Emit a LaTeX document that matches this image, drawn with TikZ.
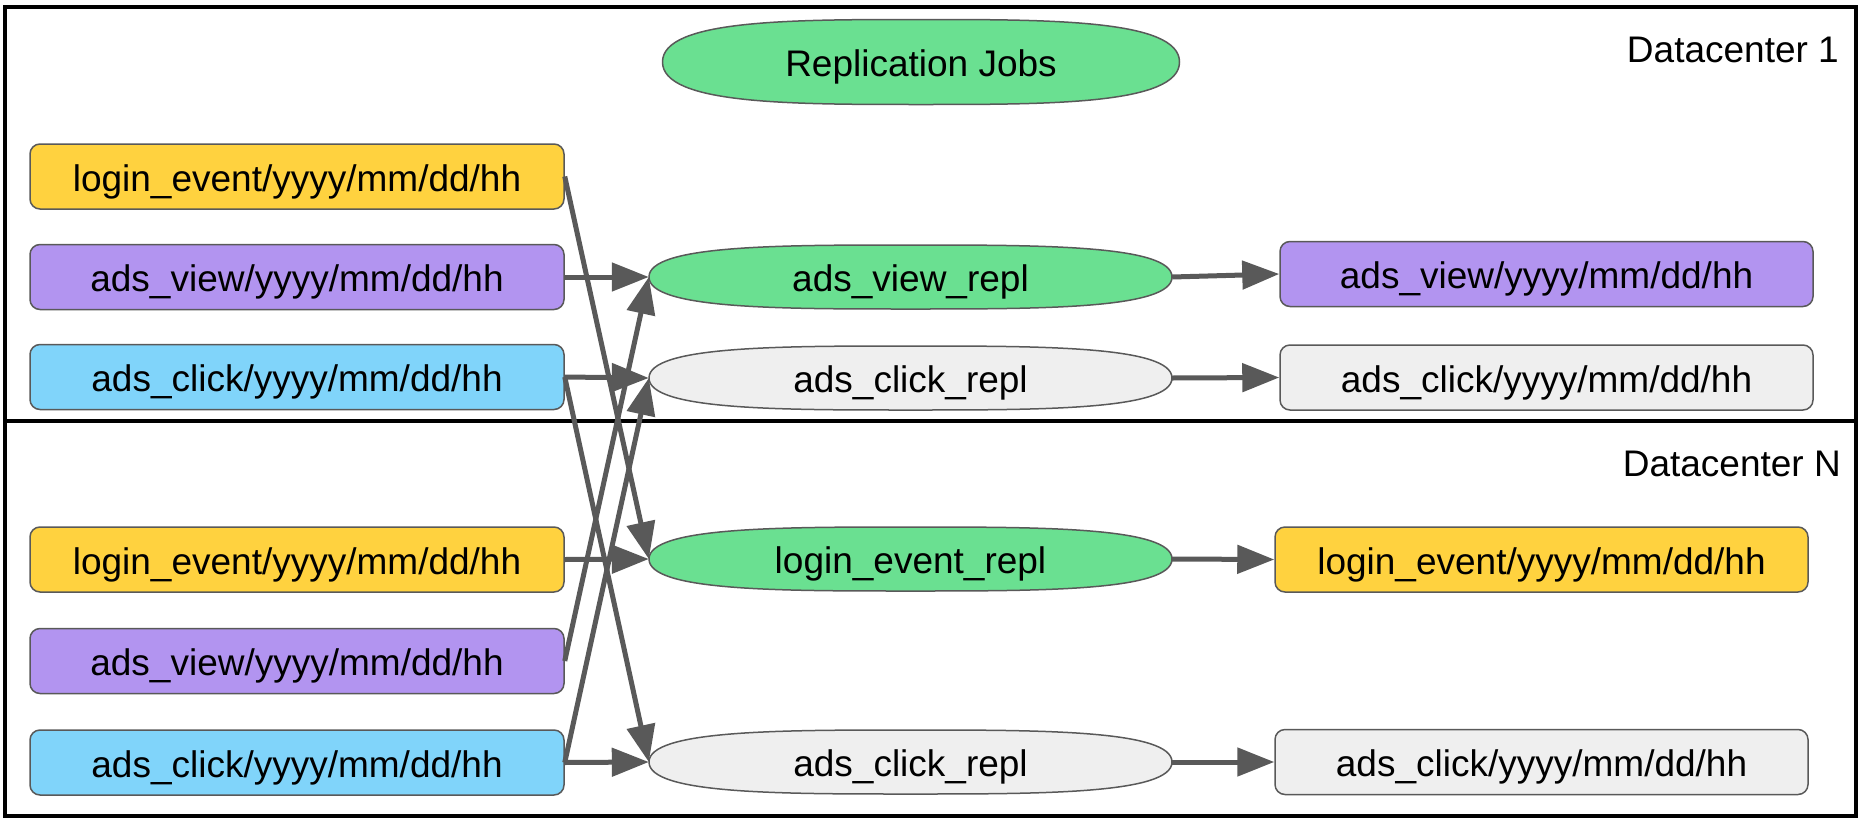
\documentclass[tikz,border=0pt]{standalone}
\usepackage{fontspec}
\setmainfont{Liberation Sans}
\usetikzlibrary{arrows.meta}
\definecolor{cyellow}{RGB}{255,210,63}
\definecolor{cpurple}{RGB}{178,148,240}
\definecolor{cblue}{RGB}{128,212,250}
\definecolor{cgreen}{RGB}{106,224,145}
\definecolor{cgray}{RGB}{239,239,239}
\definecolor{cline}{RGB}{89,89,89}
% #1 cx, #2 cy, #3 half width, #4 half height, #5 fill
\newcommand{\pillshape}[5]{%
  \draw[pillborder, fill=#5] (#1-#3,#2)
    .. controls (#1-#3,#2-#4) and (#1-0.5*#3,#2-#4) .. (#1,#2-#4)
    .. controls (#1+0.5*#3,#2-#4) and (#1+#3,#2-#4) .. (#1+#3,#2)
    .. controls (#1+#3,#2+#4) and (#1+0.5*#3,#2+#4) .. (#1,#2+#4)
    .. controls (#1-0.5*#3,#2+#4) and (#1-#3,#2+#4) .. cycle;}
\begin{document}
\begin{tikzpicture}[x=1pt,y=-1pt,
  txt/.style={font=\fontsize{37}{44}\selectfont, text height=29pt, text depth=0pt, inner sep=0pt},
  box/.style={txt, draw=cline, line width=1.5pt, rounded corners=10pt, minimum width=534pt, minimum height=65pt},
  pilltext/.style={txt, minimum width=523pt, minimum height=64pt},
  pillborder/.style={draw=cline, line width=1.5pt},
  frame/.style={draw=black, line width=4pt},
  conn/.style={draw=cline, line width=5pt, -{Triangle[length=37pt,width=28pt]}}]
\useasboundingbox (0,0) rectangle (1860,819);
% frames
\draw[frame] (5,7) rectangle (1856,816);
\draw[frame] (5,421) -- (1856,421);
\node[txt, anchor=east] (dc1) at (1839,48) {Datacenter 1};
\node[txt, anchor=east] (dcn) at (1841,462) {Datacenter N};
% replication jobs
\pillshape{921}{62}{258.5}{42.5}{cgreen}
\node[txt, minimum width=517pt, minimum height=85pt] (rj) at (921,62) {Replication Jobs};
% left boxes DC1
\node[box, fill=cyellow] (ll1) at (297,176.5) {login\_event/yyyy/mm/dd/hh};
\node[box, fill=cpurple] (lv1) at (297,277) {ads\_view/yyyy/mm/dd/hh};
\node[box, fill=cblue]   (lc1) at (297,377) {ads\_click/yyyy/mm/dd/hh};
% left boxes DCN
\node[box, fill=cyellow] (ll2) at (297,559.5) {login\_event/yyyy/mm/dd/hh};
\node[box, fill=cpurple] (lv2) at (297,661) {ads\_view/yyyy/mm/dd/hh};
\node[box, fill=cblue]   (lc2) at (297,762.5) {ads\_click/yyyy/mm/dd/hh};
% replication pills
\pillshape{910.5}{277}{261.5}{32}{cgreen}
\node[pilltext] (avr) at (910.5,277) {ads\_view\_repl};
\pillshape{910.5}{378}{261.5}{32}{cgray}
\node[pilltext] (acr1) at (910.5,378) {ads\_click\_repl};
\pillshape{910.5}{559}{261.5}{32}{cgreen}
\node[pilltext] (ler) at (910.5,559) {login\_event\_repl};
\pillshape{910.5}{762}{261.5}{32}{cgray}
\node[pilltext] (acr2) at (910.5,762) {ads\_click\_repl};
% right boxes
\node[box, fill=cpurple, minimum width=533pt] (rv1) at (1546.5,274) {ads\_view/yyyy/mm/dd/hh};
\node[box, fill=cgray, minimum width=533pt] (rc1) at (1546.5,377.5) {ads\_click/yyyy/mm/dd/hh};
\node[box, fill=cyellow, minimum width=533pt] (rl2) at (1541.5,559.5) {login\_event/yyyy/mm/dd/hh};
\node[box, fill=cgray, minimum width=533pt] (rc2) at (1541.5,762) {ads\_click/yyyy/mm/dd/hh};
% connectors
\draw[conn] (lv1.east) -- (avr.west);
\draw[conn] (lc1.east) -- (acr1.west);
\draw[conn] (ll1.east) -- (ler.west);
\draw[conn] (lc1.east) -- (acr2.west);
\draw[conn] (lv2.east) -- (avr.west);
\draw[conn] (lc2.east) -- (acr1.west);
\draw[conn] (ll2.east) -- (ler.west);
\draw[conn] (lc2.east) -- (acr2.west);
\draw[conn] (avr.east) -- (rv1.west);
\draw[conn] (acr1.east) -- (rc1.west);
\draw[conn] (ler.east) -- (rl2.west);
\draw[conn] (acr2.east) -- (rc2.west);
\end{tikzpicture}
\end{document}
